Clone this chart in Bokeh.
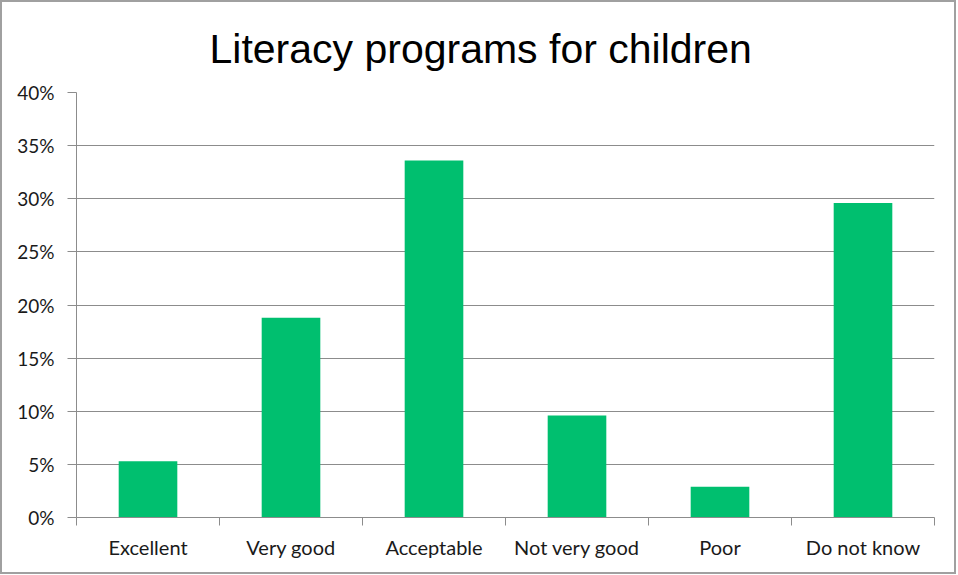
from bokeh.plotting import figure
from bokeh.models import FixedTicker, PrintfTickFormatter, Range1d, ColumnDataSource
from bokeh.embed import file_html
from bokeh.resources import INLINE

categories = ["Excellent", "Very good", "Acceptable", "Not very good", "Poor", "Do not know"]
values = [5.3, 18.8, 33.6, 9.6, 2.9, 29.6]
y_ticks = [0, 5, 10, 15, 20, 25, 30, 35, 40]

xs = [i + 0.5 for i in range(len(categories))]
src = ColumnDataSource(dict(x=xs, top=values, cat=categories))

p = figure(width=956, height=574, output_backend="svg", toolbar_location=None,
           x_range=Range1d(0, len(categories)), y_range=Range1d(0, 40),
           min_border_left=74, min_border_right=24, min_border_top=89, min_border_bottom=59)
p.styles = {"border": "2px solid #a0a0a0", "box-sizing": "border-box"}

p.vbar(x="x", top="top", width=0.41, bottom=0, source=src, color="#00bf6f", line_color=None)

p.title.text = "Literacy programs for children"
p.title.align = "left"
p.title.offset = 133
p.title.text_font = "Liberation Sans"
p.title.text_font_style = "normal"
p.title.text_font_size = "41px"
p.title.text_color = "#000000"
p.title.standoff = 42

p.outline_line_color = None
p.background_fill_color = "white"
p.border_fill_color = "white"

# y axis
p.yaxis.ticker = FixedTicker(ticks=y_ticks)
p.yaxis.formatter = PrintfTickFormatter(format="%d%%")
p.yaxis.axis_line_color = "#8c8c8c"
p.yaxis.major_tick_line_color = "#8c8c8c"
p.yaxis.major_tick_in = 0
p.yaxis.major_tick_out = 9
p.yaxis.minor_tick_line_color = None
p.yaxis.major_label_standoff = 13
p.yaxis.major_label_text_font = "Lato"
p.yaxis.major_label_text_font_size = "19px"
p.yaxis.major_label_text_color = "#1a1a1a"

# x axis: labels at centers, ticks at category boundaries
p.xaxis.ticker = FixedTicker(ticks=xs, minor_ticks=list(range(len(categories) + 1)))
p.xaxis.major_label_overrides = {x: c for x, c in zip(xs, categories)}
p.xaxis.axis_line_color = "#8c8c8c"
p.xaxis.major_tick_line_color = None
p.xaxis.minor_tick_line_color = "#8c8c8c"
p.xaxis.minor_tick_in = 0
p.xaxis.minor_tick_out = 8
p.xaxis.major_label_standoff = 9
p.xaxis.major_label_text_font = "Lato"
p.xaxis.major_label_text_font_size = "20px"
p.xaxis.major_label_text_color = "#1a1a1a"

p.xgrid.grid_line_color = None
p.ygrid.ticker = FixedTicker(ticks=y_ticks)
p.ygrid.grid_line_color = "#8c8c8c"
p.ygrid.grid_line_width = 1

open("out.html", "w").write(file_html(p, INLINE))
